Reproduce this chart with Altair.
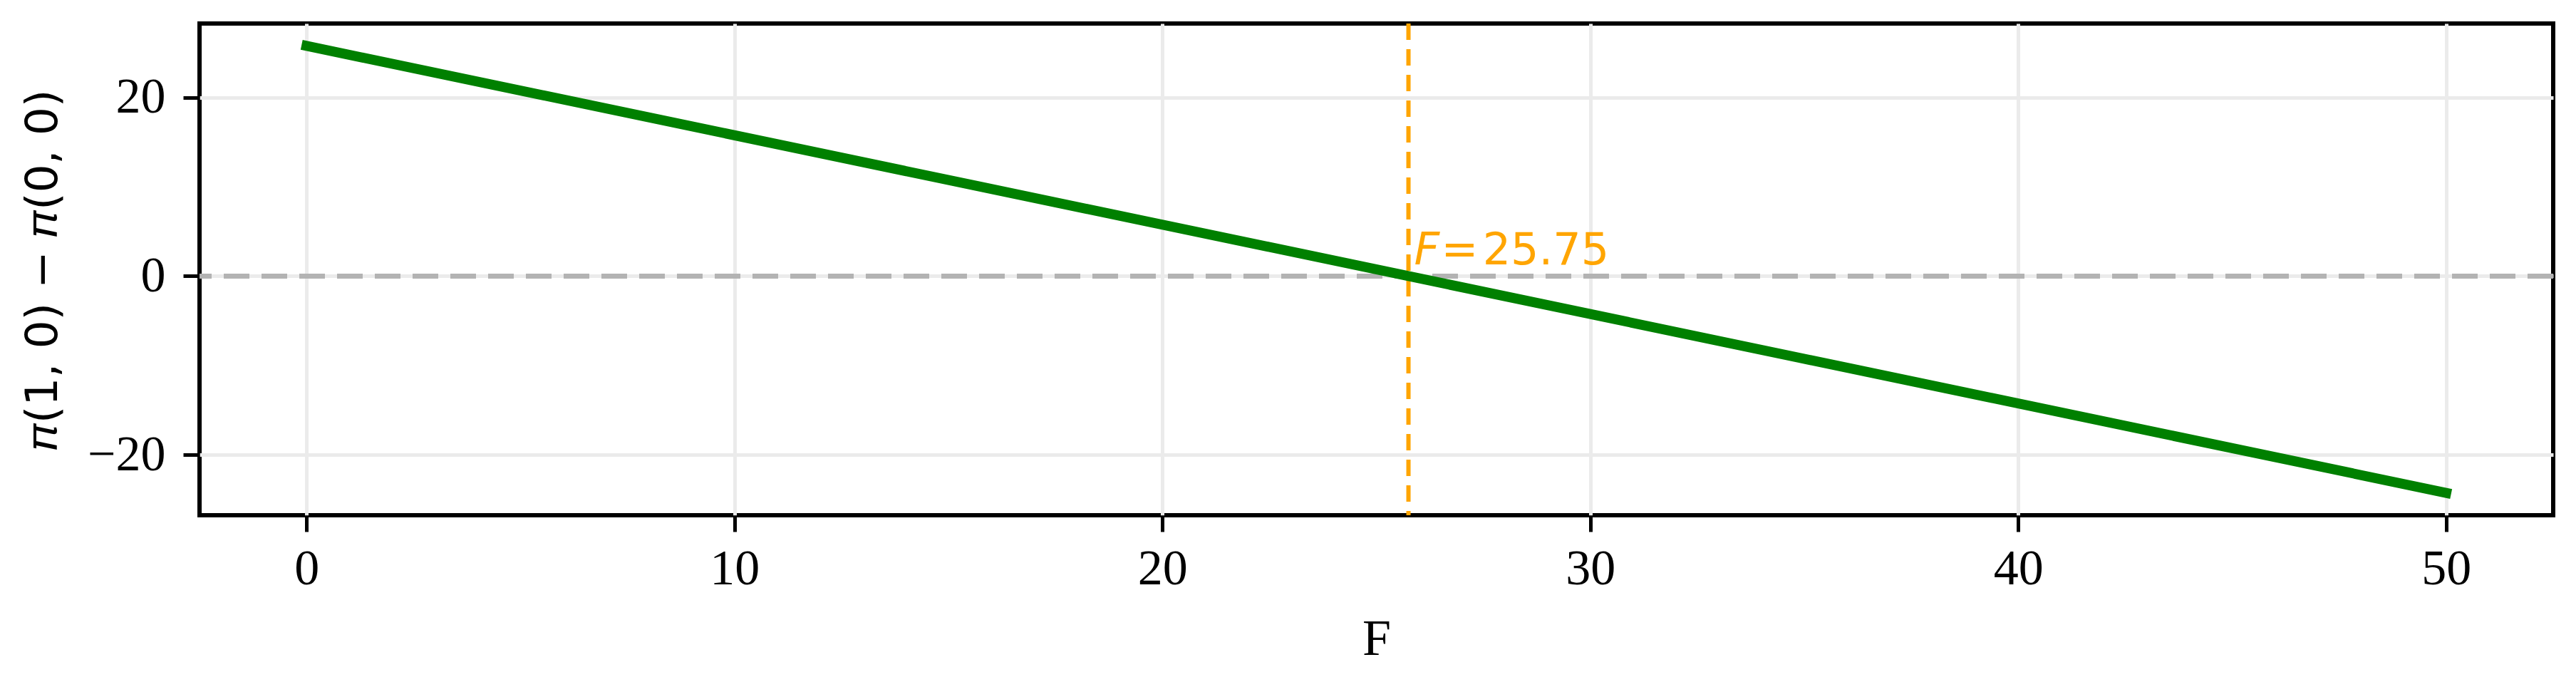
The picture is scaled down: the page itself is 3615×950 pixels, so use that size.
import altair as alt
import pandas as pd

# Data
F_values = [0, 50]
diff_values = [25.75, -24.25]
threshold_F = [25.75]
zero_level = [0]
x_ticks = [0, 10, 20, 30, 40, 50]
y_ticks = [-20, 0, 20]

line_df = pd.DataFrame({"F": F_values, "diff": diff_values})
thr_df = pd.DataFrame({"F": threshold_F, "diff": zero_level})
zero_df = pd.DataFrame({"diff": zero_level})

x_scale = alt.Scale(domain=[-2.5, 52.5], nice=False, zero=False)
y_scale = alt.Scale(domain=[-26.75, 28.25], nice=False, zero=False)

x_axis = alt.Axis(
    values=x_ticks, format="d", title="F", grid=True, domain=False,
    labelFont="Liberation Serif", labelFontSize=70, labelColor="black",
    labelPadding=18, tickSize=23, tickWidth=5, tickColor="black",
    titleFont="Liberation Serif", titleFontSize=72, titleFontWeight="normal",
    titleColor="black", titleBaseline="alphabetic", titleY=195,
    gridColor="#ebebeb", gridWidth=5,
)
y_axis = alt.Axis(
    values=y_ticks, format="d", title="𝜋(1, 0) − 𝜋(0, 0)", grid=True, domain=False,
    labelFont="Liberation Serif", labelFontSize=70, labelColor="black",
    labelPadding=25, tickSize=23, tickWidth=5, tickColor="black",
    titleFont="DejaVu Sans", titleFontSize=63, titleFontWeight="normal",
    titleColor="black", titleAngle=-90, titleX=-220, titleY=345,
    titleBaseline="middle", titleAlign="center",
    gridColor="#ebebeb", gridWidth=5,
)

base_line = alt.Chart(line_df).mark_line(
    color="#008000", strokeWidth=14, strokeCap="square"
).encode(
    x=alt.X("F:Q", scale=x_scale, axis=x_axis),
    y=alt.Y("diff:Q", scale=y_scale, axis=y_axis),
)

zero_rule = alt.Chart(zero_df).mark_rule(
    color="#b3b3b3", strokeWidth=7, strokeDash=[36, 17]
).encode(y=alt.Y("diff:Q", scale=y_scale))

thr_rule = alt.Chart(thr_df).mark_rule(
    color="#FFA500", strokeWidth=6, strokeDash=[23, 13]
).encode(x=alt.X("F:Q", scale=x_scale))

label_F = alt.Chart(thr_df).mark_text(
    text="F", font="DejaVu Sans", fontStyle="italic", fontSize=62,
    color="#FFA500", align="left", baseline="alphabetic", dx=8, dy=-16,
).encode(x=alt.X("F:Q", scale=x_scale), y=alt.Y("diff:Q", scale=y_scale))

label_val = alt.Chart(thr_df).mark_text(
    text="=\u200a25.75", font="DejaVu Sans", fontSize=62,
    color="#FFA500", align="left", baseline="alphabetic", dx=46, dy=-16,
).encode(x=alt.X("F:Q", scale=x_scale), y=alt.Y("diff:Q", scale=y_scale))

chart = alt.layer(zero_rule, thr_rule, base_line, label_F, label_val).properties(
    width=3303, height=690,
    autosize=alt.AutoSizeParams(type="none"),
    padding={"left": 272, "top": 25, "right": 24, "bottom": 210},
).configure(
    background="white",
    view=alt.ViewConfig(stroke="black", strokeWidth=6),
)

chart.save("out.html", embed_options={"renderer": "svg", "actions": False})
